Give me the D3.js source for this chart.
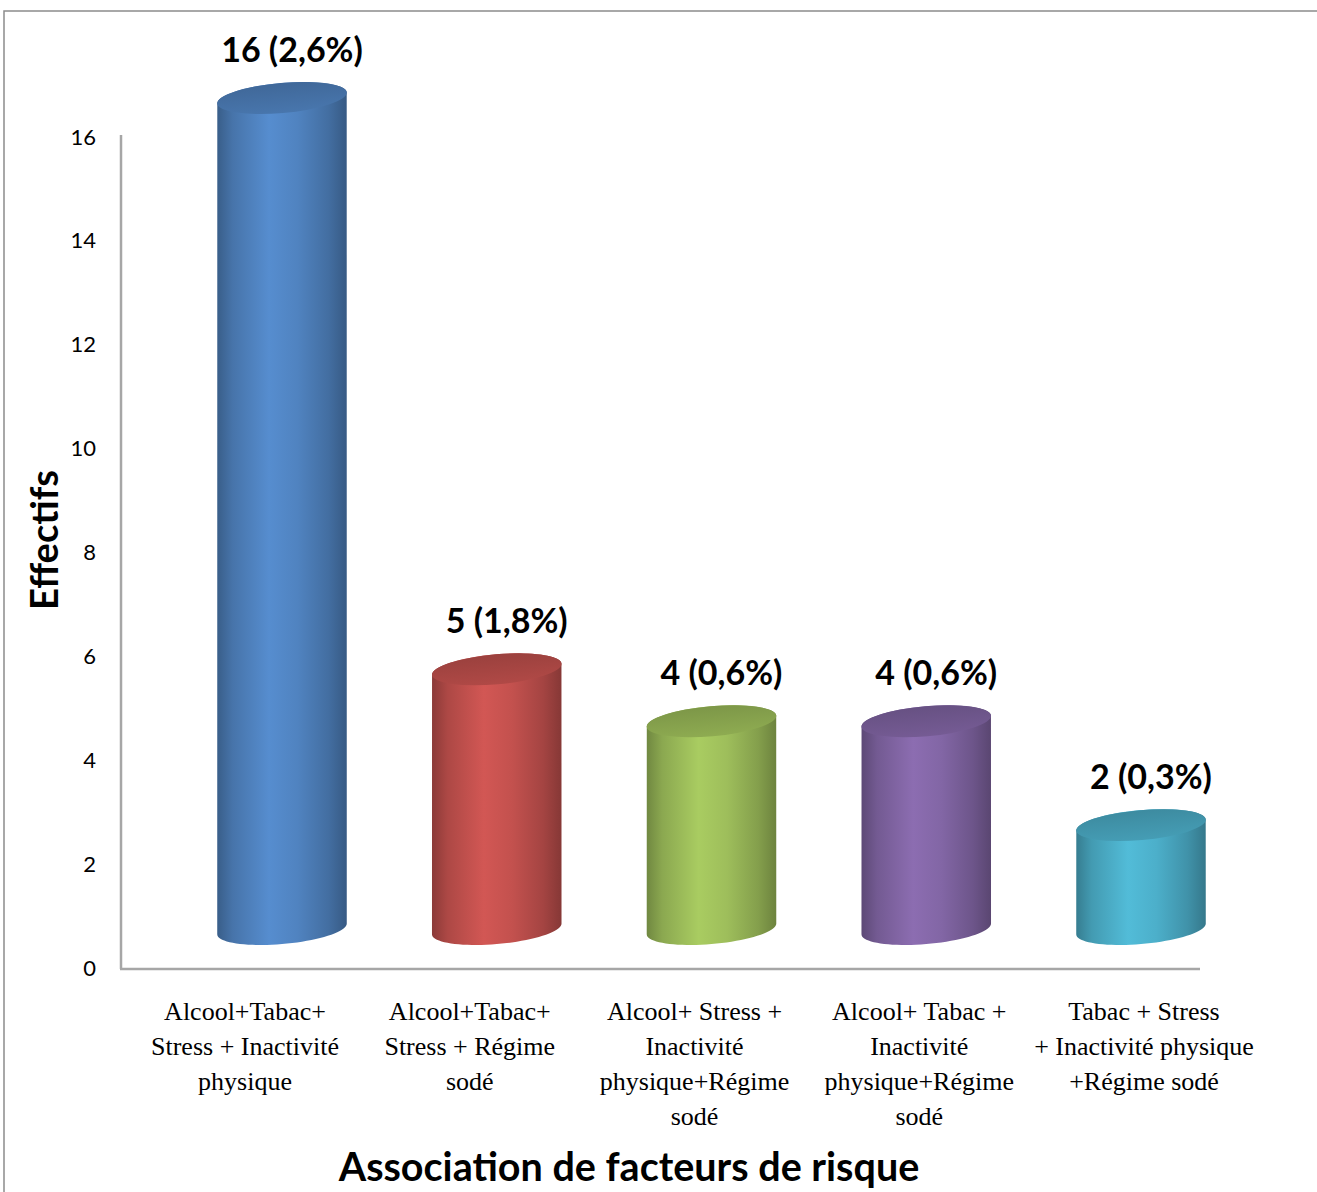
<!DOCTYPE html>
<html>
<head>
<meta charset="utf-8">
<script src="https://cdn.jsdelivr.net/npm/d3@7"></script>
<style>
  body { margin: 0; background: #fff; }
</style>
</head>
<body>
<div id="chart"></div>
<script>
// data
const categories = [
  ['Alcool+Tabac+', 'Stress + Inactivité', 'physique'],
  ['Alcool+Tabac+', 'Stress + Régime', 'sodé'],
  ['Alcool+ Stress +', 'Inactivité', 'physique+Régime', 'sodé'],
  ['Alcool+ Tabac +', 'Inactivité', 'physique+Régime', 'sodé'],
  ['Tabac + Stress', '+ Inactivité physique', '+Régime sodé']
]
const values = [16, 5, 4, 4, 2]
const percents = ['2,6%', '1,8%', '0,6%', '0,6%', '0,3%']
const yTicks = [0, 2, 4, 6, 8, 10, 12, 14, 16]
const colors = ['#4F81BD', '#C0504D', '#9BBB59', '#8064A2', '#4BACC6']

const W = 1317, H = 1192
const AXIS = {LEFT: 121, RIGHT: 1200, TOP: 135, BOTTOM: 969}
const DEPTH = 39      // cylinders sit back in the 3D floor
const RX = 65, RY = 15, TILT = -5

const svg = d3.select('#chart').append('svg')
  .attr('width', W).attr('height', H)

// outer chart frame (only top and left visible in the crop)
svg.append('path')
  .attr('d', `M4,${H} L4,11 L${W},11`)
  .attr('fill', 'none').attr('stroke', '#8c8c8c').attr('stroke-width', 1.5)

const y = d3.scaleLinear().domain([0, 16]).range([968, 137])
const x = d3.scalePoint().domain(d3.range(values.length)).range([282, 1141])
const xLab = d3.scalePoint().domain(d3.range(values.length)).range([245, 1144])

// axes lines (no tick marks)
svg.append('line')
  .attr('x1', AXIS.LEFT).attr('x2', AXIS.LEFT)
  .attr('y1', AXIS.TOP).attr('y2', AXIS.BOTTOM)
  .attr('stroke', '#a6a6a6').attr('stroke-width', 2.5)
svg.append('line')
  .attr('x1', AXIS.LEFT - 1).attr('x2', AXIS.RIGHT)
  .attr('y1', AXIS.BOTTOM).attr('y2', AXIS.BOTTOM)
  .attr('stroke', '#a6a6a6').attr('stroke-width', 2.5)

const yAxis = svg.append('g')
  .attr('transform', `translate(${AXIS.LEFT}, 0)`)
  .call(d3.axisLeft(y).tickValues(yTicks).tickSize(0).tickPadding(25))
yAxis.select('.domain').remove()
yAxis.selectAll('text')
  .attr('font-family', 'Lato, sans-serif')
  .attr('font-size', 22)
  .attr('fill', '#000')

// gradients
const defs = svg.append('defs')
colors.forEach((c, i) => {
  const base = d3.color(c)
  const g = defs.append('linearGradient').attr('id', 'body' + i)
    .attr('x1', 0).attr('x2', 1).attr('y1', 0).attr('y2', 0)
  const stops = [
    [0, base.darker(0.9)],
    [0.12, base.darker(0.3)],
    [0.4, base.brighter(0.25)],
    [0.62, base.brighter(0.05)],
    [0.86, base.darker(0.45)],
    [1, base.darker(1.0)]
  ]
  stops.forEach(s => g.append('stop').attr('offset', s[0]).attr('stop-color', s[1]))

  const cap = defs.append('linearGradient').attr('id', 'cap' + i)
    .attr('x1', 0).attr('x2', 0).attr('y1', 0).attr('y2', 1)
  cap.append('stop').attr('offset', 0).attr('stop-color', base.darker(0.6))
  cap.append('stop').attr('offset', 1).attr('stop-color', base.darker(0.25))
})

// point on tilted ellipse
const th = TILT * Math.PI / 180
function ept(cx, cy, t) {
  return [
    cx + RX * Math.cos(t) * Math.cos(th) - RY * Math.sin(t) * Math.sin(th),
    cy + RX * Math.cos(t) * Math.sin(th) + RY * Math.sin(t) * Math.cos(th)
  ]
}
// parameter of the right silhouette point
const tR = Math.atan2(-RY * Math.sin(th), RX * Math.cos(th))

function bodyPath(cx, yTop, yBot) {
  const pts = []
  const n = 40
  // bottom front arc, from left silhouette round to right silhouette
  for (let k = 0; k <= n; k++) {
    const t = tR + Math.PI - k * Math.PI / n
    pts.push(ept(cx, yBot, t))
  }
  // up the right side and across the top back
  for (let k = 0; k <= n; k++) {
    const t = tR + k * Math.PI / n
    pts.push(ept(cx, yTop, -t))
  }
  return 'M' + pts.map(p => p[0].toFixed(2) + ',' + p[1].toFixed(2)).join('L') + 'Z'
}

const bars = svg.selectAll('g.bar')
  .data(values)
  .enter().append('g').attr('class', 'bar')

bars.append('path')
  .attr('d', (d, i) => bodyPath(x(i), y(d) - DEPTH, y(0) - DEPTH))
  .attr('fill', (d, i) => `url(#body${i})`)

bars.append('ellipse')
  .attr('cx', 0).attr('cy', 0).attr('rx', RX).attr('ry', RY)
  .attr('transform', (d, i) => `translate(${x(i)}, ${y(d) - DEPTH}) rotate(${TILT})`)
  .attr('fill', (d, i) => `url(#cap${i})`)

// value labels
bars.append('text')
  .attr('x', (d, i) => x(i) + 10)
  .attr('y', (d, i) => y(d) - DEPTH - 36)
  .attr('text-anchor', 'middle')
  .attr('font-family', 'Lato, sans-serif')
  .attr('font-weight', 'bold')
  .attr('font-size', 34)
  .attr('fill', '#000')
  .text((d, i) => `${d} (${percents[i]})`)

// category labels
const cat = svg.selectAll('text.cat')
  .data(categories)
  .enter().append('text').attr('class', 'cat')
  .attr('text-anchor', 'middle')
  .attr('font-family', '"Liberation Serif", "Times New Roman", serif')
  .attr('font-size', 26)
  .attr('fill', '#000')
cat.selectAll('tspan')
  .data((d, i) => d.map(line => ({line, i})))
  .enter().append('tspan')
  .attr('x', d => xLab(d.i))
  .attr('y', (d, j) => 1020 + j * 35)
  .text(d => d.line)

// axis titles
svg.append('text')
  .attr('transform', 'translate(58, 540) rotate(-90)')
  .attr('text-anchor', 'middle')
  .attr('font-family', 'Lato, sans-serif')
  .attr('font-weight', 'bold')
  .attr('font-size', 38)
  .text('Effectifs')

svg.append('text')
  .attr('x', 629).attr('y', 1181)
  .attr('text-anchor', 'middle')
  .attr('font-family', 'Lato, sans-serif')
  .attr('font-weight', 'bold')
  .attr('font-size', 39.5)
  .text('Association de facteurs de risque')
</script>
</body>
</html>
